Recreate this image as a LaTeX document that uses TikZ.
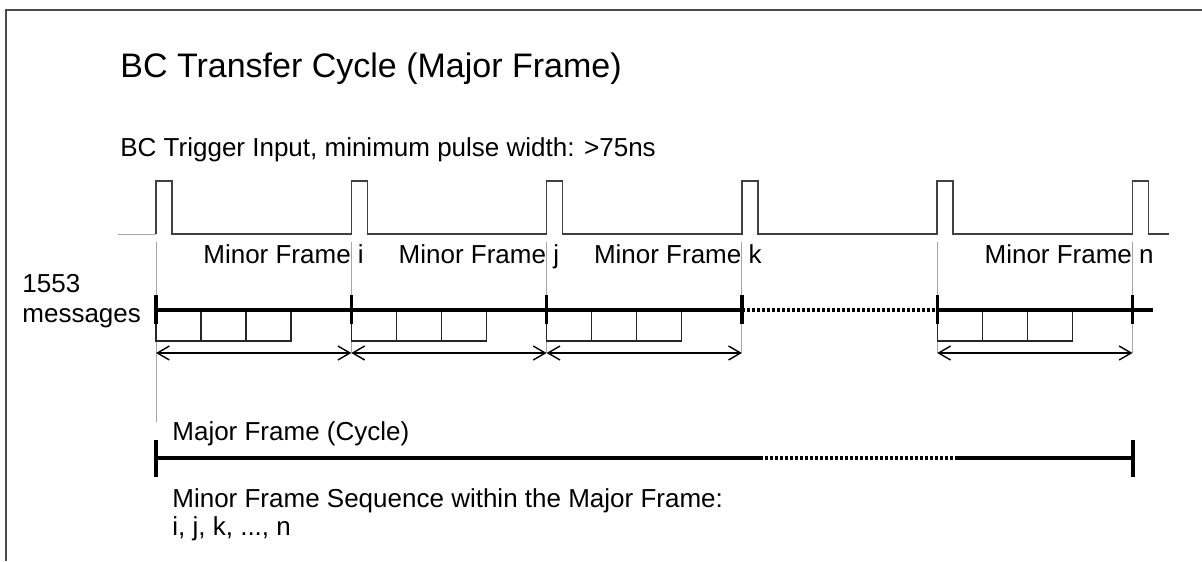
\documentclass[tikz,border=0pt]{standalone}
\usepackage{fontspec}
\setmainfont{Liberation Sans}
\usetikzlibrary{arrows.meta}

\tikzset{
  pulse/.style={draw=black!75, line width=0.8pt},
  guide/.style={draw=black!35, line width=0.5pt},
  bus/.style={draw=black, line width=1.6pt},
  busdots/.style={draw=black, line width=1.9pt, dash pattern=on 1.6pt off 0.9pt},
  tickmark/.style={draw=black, line width=1.7pt},
  slot/.style={draw=black!85, line width=0.6pt},
  span/.style={draw=black, line width=0.7pt,
    {Straight Barb[length=6pt,width=7pt]}-{Straight Barb[length=6pt,width=7pt]}},
}

\begin{document}
\begin{tikzpicture}[x=0.5pt,y=-0.5pt]
		\useasboundingbox (0,0) rectangle (1202,561);
		\draw[black!70, line width=1.1pt] (6,561) -- (6,10) -- (1202,10);

		% frame boundaries, one per trigger pulse
		\foreach \k in {0,...,5} {
		    \coordinate (p\k) at ({156+195.3*\k},234);
		    \coordinate (g\k) at ({156+195.3*\k},242);
		    \coordinate (f\k) at ({156+195.3*\k},310);
		    \coordinate (a\k) at ({156+195.3*\k},353);
		}
		\coordinate (start) at (118,234);
		\coordinate (stop) at (1169,234);
		\coordinate (busend) at (1153,310);

		\begin{scope}[every node/.style={inner sep=0pt,anchor=base west,font=\fontsize{13}{15}\selectfont}]
		    \node[font=\fontsize{17}{20}\selectfont] (title) at (120,78) {BC Transfer Cycle (Major Frame)};
		    \node (trig) at (120,156) {BC Trigger Input, minimum pulse width: >75ns};
		    \node (mi) at ({156+47},263) {Minor Frame i};
		    \node (mj) at ({351.3+47},263) {Minor Frame j};
		    \node (mk) at ({546.6+47},263) {Minor Frame k};
		    \node (mn) at ({937.2+47},263) {Minor Frame n};
		    \node (msg1) at (22,292) {1553};
		    \node (msg2) at (22,322) {messages};
		    \node (major) at (172,440) {Major Frame (Cycle)};
		    \node (seq1) at (172,507) {Minor Frame Sequence within the Major Frame:};
		    \node (seq2) at (172,535) {i, j, k, ..., n};
		\end{scope}

		% trigger input
		\draw[guide] (start) -- (p0);
		\draw[pulse] (p0) \foreach \k in {0,...,5} {-- (p\k) -- ++(0,-53) -- ++(16,0) -- ++(0,53)} -- (stop);
		\draw[guide] (g0) -- ++(0,180);
		\foreach \k in {1,...,5}
		    \draw[guide] (g\k) -- (a\k);

		% 1553 messages
		\foreach \k in {0,1,2,4}
		    \foreach \s in {0,1,2}
		        \draw[slot] (f\k) ++(45*\s,0) rectangle ++(45,31);
		\draw[bus] (f0) -- (f3);
		\draw[busdots] (f3) -- (f4);
		\draw[bus] (f4) -- (busend);
		\foreach \k in {0,...,5}
		    \draw[tickmark] (f\k) ++(0,-15) -- ++(0,29);
		\foreach \a/\b in {0/1,1/2,2/3,4/5}
		    \draw[span] (a\a) -- (a\b);

		% major frame
		\coordinate (m0) at (156,458);
		\coordinate (m1) at (760,458);
		\coordinate (m2) at (958,458);
		\coordinate (m3) at (1133,458);
		\draw[bus] (m0) -- (m1);
		\draw[busdots] (m1) -- (m2);
		\draw[bus] (m2) -- (m3);
		\draw[tickmark] (m0) ++(0,-18) -- ++(0,37);
		\draw[tickmark] (m3) ++(0,-18) -- ++(0,37);
\end{tikzpicture}
\end{document}
